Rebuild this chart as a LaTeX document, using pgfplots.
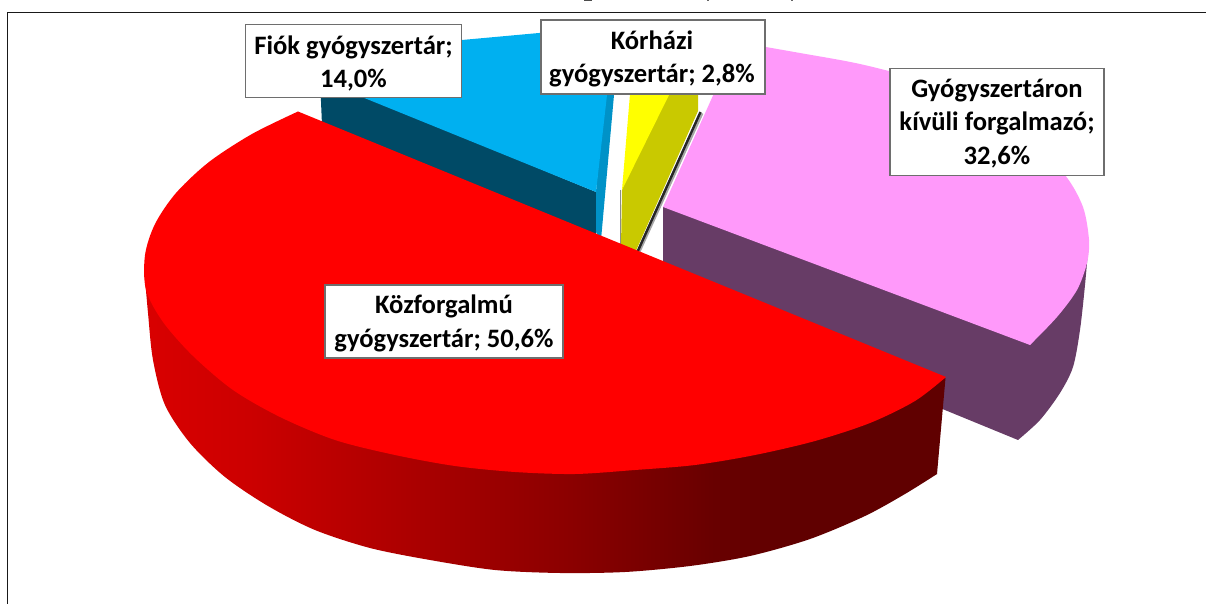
\documentclass[border=0pt]{standalone}
\usepackage{fontspec}
\setmainfont{Carlito}
\usepackage{pgfplots}
\pgfplotsset{compat=1.18}
\definecolor{rtop}{HTML}{FF0000}
\definecolor{ptop}{HTML}{FF99FA}
\definecolor{pside}{HTML}{673C66}
\definecolor{btop}{HTML}{00B0F0}
\definecolor{bedge}{HTML}{0092C7}
\definecolor{bside}{HTML}{004A66}
\definecolor{ytop}{HTML}{FFFF00}
\definecolor{yside}{HTML}{C9C900}
\definecolor{boxline}{HTML}{6E6E6E}
\definecolor{r0}{HTML}{D90000}
\definecolor{r1}{HTML}{CC0000}
\definecolor{r2}{HTML}{AE0000}
\definecolor{r3}{HTML}{8C0000}
\definecolor{r4}{HTML}{680000}
\definecolor{r5}{HTML}{600000}
\pgfdeclarehorizontalshading{redside}{100bp}{color(0bp)=(r0); color(25bp)=(r0); color(31.6bp)=(r1); color(41bp)=(r2); color(51.6bp)=(r3); color(61bp)=(r4); color(66bp)=(r5); color(100bp)=(r5)}
\tikzset{lab/.style={draw=boxline,line width=0.75pt,fill=white,inner sep=0pt},
 txt/.style={align=center,inner sep=0pt,font=\fontsize{13.3}{16.8}\selectfont\bfseries,text=black}}
\begin{document}
\begin{tikzpicture}
\useasboundingbox (0,0) rectangle (603pt,302pt);
\begin{axis}[scale only axis,width=603pt,height=302pt,at={(0,0)},anchor=south west,
  xmin=0,xmax=1206,ymin=0,ymax=604,y dir=reverse,hide axis,clip=false]
% frame
\addplot[draw=black!90,line width=0.7pt] coordinates {(7.5,604)(7.5,12.5)(1206,12.5)};
% clipped title remnants
\addplot[draw=black!70,line width=0.8pt] coordinates {(584,0.5)(592,0.5)};
\addplot[draw=black!60,line width=0.6pt] coordinates {(708,0)(708,1.5)};
\addplot[draw=black!60,line width=0.6pt] coordinates {(792,0)(792,1.5)};
% blue slice
\addplot[fill=bside,draw=none] coordinates {(320,78)(322,125)(596,236)(596,192)} --cycle;
\addplot[fill=bedge,draw=none] coordinates {(596,192)(609,40)(616,40)(614,95)(601,240)(596,232)} --cycle;
\addplot[fill=btop,draw=none] coordinates {(596,192)(320,80)(400,50)(462,40)(539,33)(609,30)(607,95)} --cycle;
% pink slice
\addplot[fill=pside,draw=none] coordinates {(663,207)(1087,240)(1075,340)(1018,440)(940,408)(700,320)(663,290)} --cycle;
\addplot[fill=pside,draw=none,smooth] coordinates {(1089,240)(1085,285)(1080,330)(1073,367)(1060,393)(1040,420)(1018,440)};
\addplot[fill=ptop,draw=none] coordinates {(663,207)(737,42)(800,60)(1000,130)(1060,250)(1030,345)} --cycle;
\addplot[fill=ptop,draw=none,smooth] coordinates {(737,42)(800,53)(860,64)(920,80)(975,103)(1025,133)(1065,175)(1083,207)(1089,240)(1087,263)(1077,290)(1057,317)(1030,345)};
% yellow slice
\addplot[draw=black!35,line width=2pt] coordinates {(701.5,113)(637,255)};
\addplot[draw=black!85,line width=1.2pt] coordinates {(700.5,112)(636.5,254)};
\addplot[draw=black!45,line width=0.5pt] coordinates {(620.5,190)(620.5,248)};
\addplot[fill=yside,draw=none] coordinates {(669,70)(698,70)(698,111)(635,253)(621,247)(622,190)} --cycle;
\addplot[fill=ytop,draw=none] coordinates {(622,190)(632,70)(680,70)(669,95)} --cycle;
% red slice
\addplot[shade,shading=redside,draw=none,smooth] coordinates {(144,267)(148,313)(153,360)(165,405)(190,443)(225,477)(268,506)(315,530)(370,548)(430,560)(495,570)(560,573)(625,572)(690,566)(750,556)(810,539)(865,516)(905,494)(937,474)};
\addplot[fill=r5,draw=none] coordinates {(937,474)(945.5,378)(800,430)(800,500)} --cycle;
\addplot[fill=rtop,draw=none,smooth] coordinates {(298,111.5)(252,134)(209,162)(176,193)(155,224)(145,255)(146,290)(163,322)(193,356)(233,390)(280,417)(335,440)(395,455)(455,466)(515,472)(575,474)(635,470)(695,465)(755,455)(815,441)(870,423)(915,401)(946,377)};
% labels
\node[lab,minimum width=108pt,minimum height=36.5pt] at (axis cs:353.5,61) {};
\node[txt] at (axis cs:353.5,63.5) {Fiók gyógyszertár;\\14,0\%};
\node[lab,minimum width=112pt,minimum height=37pt] at (axis cs:653,57) {};
\node[txt] at (axis cs:652,59) {Kórházi\\gyógyszertár; 2,8\%};
\node[lab,minimum width=107pt,minimum height=53.5pt] at (axis cs:997,122) {};
\node[txt] at (axis cs:997,123.5) {Gyógyszertáron\\kívüli forgalmazó;\\32,6\%};
\node[lab,minimum width=119pt,minimum height=36.5pt] at (axis cs:444,321.5) {};
\node[txt] at (axis cs:444,323.5) {Közforgalmú\\gyógyszertár; 50,6\%};
\end{axis}
\end{tikzpicture}
\end{document}
